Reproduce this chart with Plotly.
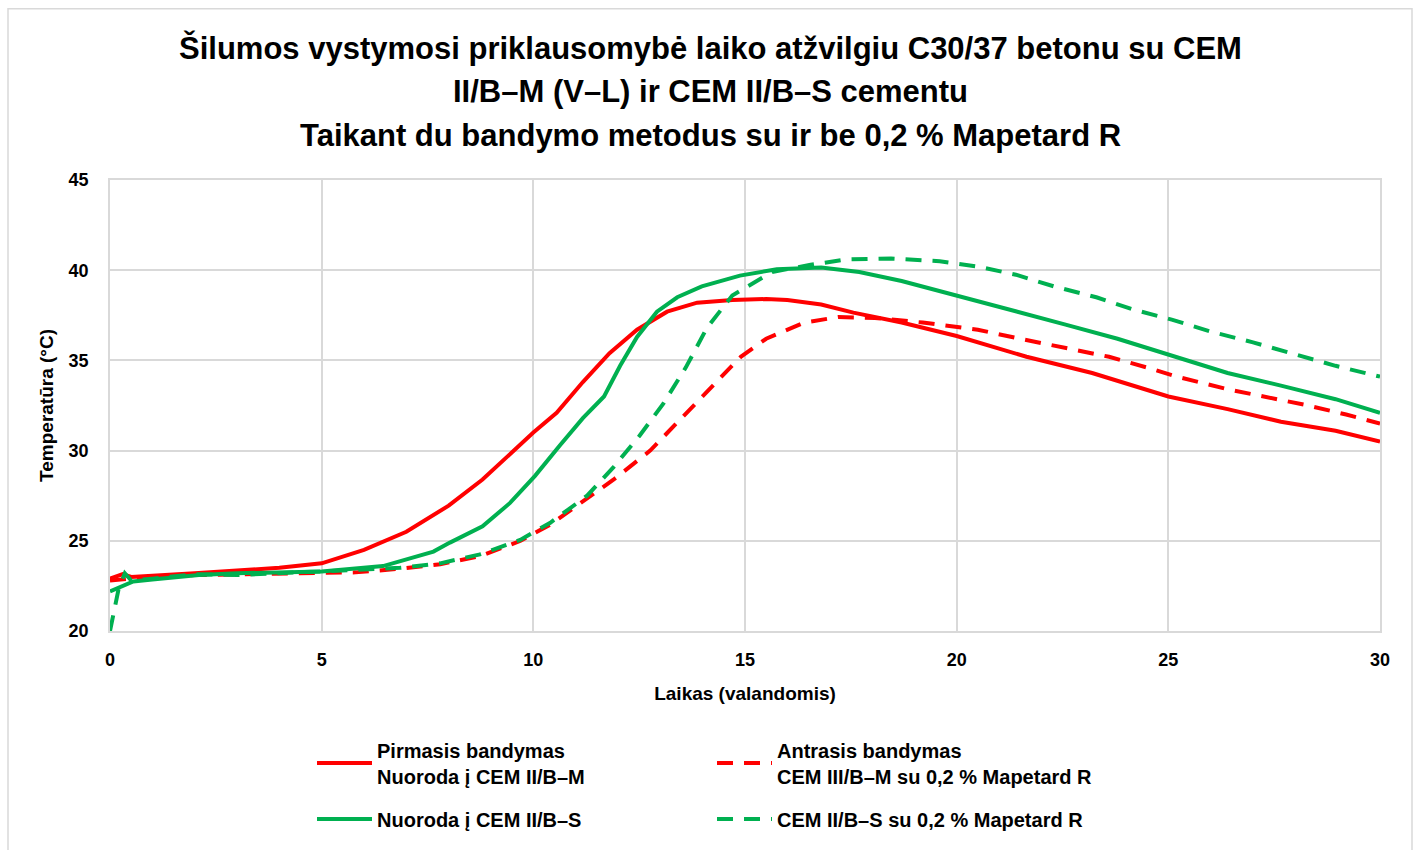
import plotly.graph_objects as go

# ---- data ----
hours_pirmasis = [0, 0.3, 0.5, 1, 2, 3, 4, 5, 6, 7, 8, 8.8, 9.4, 10, 10.55, 11.17, 11.8, 12.45,
                  13.16, 13.87, 14.7, 15.5, 16, 16.8, 17.56, 18.7, 20, 21.65, 23.2, 25, 26.4,
                  27.66, 28.95, 30]
temp_pirmasis = [22.9, 23.15, 23.0, 23.05, 23.2, 23.35, 23.5, 23.75, 24.5, 25.5, 26.95, 28.4, 29.7,
                 31.0, 32.1, 33.8, 35.4, 36.7, 37.7, 38.2, 38.35, 38.4, 38.35, 38.1, 37.65, 37.1,
                 36.35, 35.2, 34.3, 33.0, 32.3, 31.6, 31.1, 30.5]

hours_antrasis = [0, 0.5, 1, 2, 3, 4, 5, 5.8, 6.85, 7.8, 8.74, 9.7, 10.4, 11.17, 11.9, 12.76, 13.54,
                  14.24, 14.9, 15.5, 16.4, 17.2, 18.07, 19.2, 20.5, 21.5, 22.55, 23.6, 24.5, 25.2,
                  26.4, 27.3, 28.3, 29.2, 30]
temp_antrasis = [22.8, 22.9, 23.0, 23.1, 23.15, 23.15, 23.2, 23.25, 23.45, 23.7, 24.15, 25.0, 25.9,
                 27.2, 28.4, 30.0, 31.9, 33.6, 35.2, 36.2, 37.1, 37.4, 37.35, 37.1, 36.7, 36.2,
                 35.7, 35.2, 34.6, 34.1, 33.4, 32.97, 32.5, 32.0, 31.5]

hours_ref_s = [0, 0.55, 1, 2.1, 3, 4, 5, 6.45, 7.64, 8.03, 8.8, 9.45, 10.04, 10.63, 11.17, 11.67,
               12.05, 12.45, 12.92, 13.4, 13.98, 14.88, 15.75, 16.8, 17.7, 18.7, 20, 21.3, 22.55,
               23.8, 25, 26.4, 27.66, 28.95, 30]
temp_ref_s = [22.2, 22.75, 22.85, 23.1, 23.2, 23.25, 23.3, 23.6, 24.4, 24.9, 25.8, 27.1, 28.6, 30.3,
              31.8, 33.0, 34.7, 36.3, 37.7, 38.5, 39.1, 39.7, 40.05, 40.15, 39.9, 39.4, 38.6, 37.8,
              37.0, 36.2, 35.3, 34.3, 33.6, 32.85, 32.1]

hours_s_mapetard = [0, 0.1, 0.2, 0.35, 0.5, 1, 2, 3, 4, 5, 5.8, 6.85, 7.8, 8.74, 9.69, 10.4, 11.27,
                    11.9, 12.5, 13.07, 13.6, 14.1, 14.7, 15.64, 16.55, 17.4, 18.45, 19.6, 20.5,
                    21.4, 22.3, 23.3, 24.2, 25.1, 26, 27, 28.05, 28.95, 30]
temp_s_mapetard = [20.0, 21.3, 22.3, 23.2, 22.8, 22.9, 23.15, 23.1, 23.2, 23.3, 23.35, 23.5, 23.75,
                   24.25, 25.05, 26.0, 27.5, 29.1, 30.8, 32.6, 34.6, 36.8, 38.6, 39.9, 40.3, 40.6,
                   40.65, 40.5, 40.2, 39.75, 39.1, 38.5, 37.8, 37.25, 36.6, 36.0, 35.3, 34.7, 34.1]

series_names = [
    "Pirmasis bandymas<br>Nuoroda į CEM II/B–M",
    "Antrasis bandymas<br>CEM III/B–M su 0,2 % Mapetard R",
    "Nuoroda į CEM II/B–S",
    "CEM II/B–S su 0,2 % Mapetard R",
]

title_lines = [
    "Šilumos vystymosi priklausomybė laiko atžvilgiu C30/37 betonu su CEM",
    "II/B–M (V–L) ir CEM II/B–S cementu",
    "Taikant du bandymo metodus su ir be 0,2 % Mapetard R",
]
x_title = "Laikas (valandomis)"
y_title = "Temperatūra (°C)"
x_ticks = [0, 5, 10, 15, 20, 25, 30]
y_ticks = [20, 25, 30, 35, 40, 45]

RED = "#FF0000"
GREEN = "#00B050"
GRID = "#D9D9D9"
FONT = "Liberation Sans, Arial, sans-serif"


def bold(size):
    return dict(family=FONT, size=size, color="#000000", weight="bold")


fig = go.Figure()
fig.add_trace(go.Scatter(x=hours_pirmasis, y=temp_pirmasis, mode="lines", name=series_names[0],
                         line=dict(color=RED, width=4), legend="legend", legendgroup="g1"))
fig.add_trace(go.Scatter(x=hours_antrasis, y=temp_antrasis, mode="lines", name=series_names[1],
                         line=dict(color=RED, width=4, dash="16px,11px"), legend="legend2",
                         legendgroup="g2"))
fig.add_trace(go.Scatter(x=hours_ref_s, y=temp_ref_s, mode="lines", name=series_names[2],
                         line=dict(color=GREEN, width=4), legend="legend", legendgroup="g3"))
fig.add_trace(go.Scatter(x=hours_s_mapetard, y=temp_s_mapetard, mode="lines", name=series_names[3],
                         line=dict(color=GREEN, width=4, dash="16px,11px"), legend="legend2",
                         legendgroup="g4"))

L, R, T, B = 110, 38, 180, 217
W, H = 1418, 850
pw, ph = W - L - R, H - T - B


def px_x(px):
    return (px - L) / pw


def px_y(py):
    return (H - B - py) / ph


annotations = []
for line, cy in zip(title_lines, [47, 91, 135]):
    annotations.append(dict(text=line, xref="paper", yref="paper",
                            x=px_x(710), y=px_y(cy), xanchor="center", yanchor="middle",
                            showarrow=False, font=bold(31)))

legend_common = dict(orientation="v", xanchor="left", yanchor="top",
                     font=bold(20),
                     bgcolor="rgba(0,0,0,0)", itemwidth=55, tracegroupgap=14,
                     traceorder="grouped", itemclick=False, itemdoubleclick=False)

fig.update_layout(
    width=W, height=H,
    margin=dict(l=L, r=R, t=T, b=B),
    paper_bgcolor="white", plot_bgcolor="white",
    showlegend=True,
    font=dict(family=FONT, color="#000000"),
    annotations=annotations,
    legend=dict(x=px_x(312), y=px_y(733), **legend_common),
    legend2=dict(x=px_x(712), y=px_y(733), **legend_common),
    shapes=[dict(type="rect", xref="paper", yref="paper", x0=px_x(8), x1=px_x(1412),
                 y0=px_y(880), y1=px_y(8), line=dict(color=GRID, width=1.5), layer="below")],
    xaxis=dict(range=[0, 30], tickvals=x_ticks, showgrid=True, gridcolor=GRID, gridwidth=1.5,
               showline=True, linecolor=GRID, linewidth=1.5, mirror=True, zeroline=False,
               ticks="", ticklabelstandoff=12, tickfont=bold(18),
               title=dict(text=x_title, standoff=17, font=bold(19))),
    yaxis=dict(range=[20, 45], tickvals=y_ticks, showgrid=True, gridcolor=GRID, gridwidth=1.5,
               showline=True, linecolor=GRID, linewidth=1.5, mirror=True, zeroline=False,
               ticks="", ticklabelstandoff=16, tickfont=bold(18),
               title=dict(text=y_title, standoff=10, font=bold(19))),
)

fig.write_html("out.html", config={"displayModeBar": False},
               post_script="document.body.style.margin='0';document.body.style.overflow='hidden';")
